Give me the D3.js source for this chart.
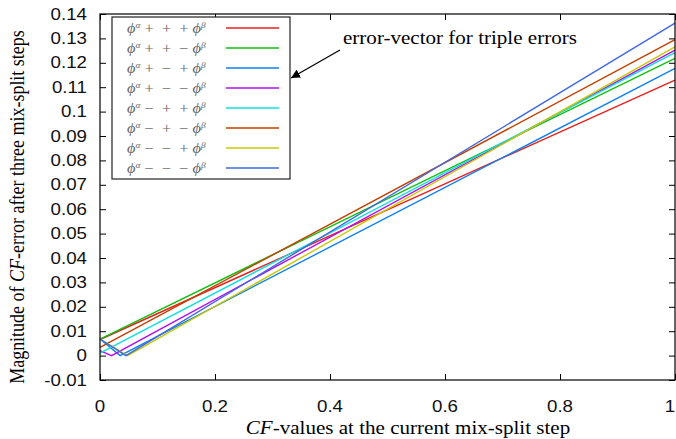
<!DOCTYPE html>
<html>
<head>
<meta charset="utf-8">
<script src="https://cdn.jsdelivr.net/npm/d3@7"></script>
<style>
  html, body { margin: 0; padding: 0; background: #fff; }
  svg { display: block; }
</style>
</head>
<body>
<div class="graph"></div>
<script>
// Valores: [valor CF, magnitud del error]
const ppp = [[0, 0.0066], [1, 0.1129]];
const ppm = [[0, 0.0068], [1, 0.1218]];
const pmp = [[0, 0.0068], [0.035, 0], [1, 0.1177]];
const pmm = [[0, 0.0020], [0.020, 0], [1, 0.1252]];
const mpp = [[0, 0.0010], [1, 0.1242]];
const mpm = [[0, 0.0034], [1, 0.1295]];
const mmp = [[0, 0.0068], [0.048, 0], [1, 0.1265]];
const mmm = [[0, 0.0068], [0.045, 0], [1, 0.1363]];

const series = [ppp, ppm, pmp, pmm, mpp, mpm, mmp, mmm];
const signs = ["+ + +", "+ + \u2212", "+ \u2212 +", "+ \u2212 \u2212",
               "\u2212 + +", "\u2212 + \u2212", "\u2212 \u2212 +", "\u2212 \u2212 \u2212"];
const colores = ["#e8201c", "#10c010", "#1080f0", "#b010f0",
                 "#10e0e0", "#c04000", "#c8c800", "#4169e1"];

const xTicks = [0, 0.2, 0.4, 0.6, 0.8, 1];
const yTicks = d3.range(-1, 15).map(d => d / 100);

const width = 676;
const height = 439;
const stretch = 1.17;

const svg = d3.select(".graph")
    .append("svg")
    .attr("width", width)
    .attr("height", height);

// Escalas
const x = d3.scaleLinear().domain([0, 1]).range([100, 675]);
const y = d3.scaleLinear().domain([-0.01, 0.14]).range([380, 14]);

// Marcas hacia dentro en los cuatro lados (estilo gnuplot)
function limpiar(g) {
    g.select(".domain").remove();
    g.selectAll(".tick line").attr("stroke", "#000");
}
svg.append("g").attr("transform", `translate(0,${y(-0.01)})`)
    .call(d3.axisBottom(x).tickValues(xTicks).tickSize(-6).tickFormat("")).call(limpiar);
svg.append("g").attr("transform", `translate(0,${y(0.14)})`)
    .call(d3.axisTop(x).tickValues(xTicks).tickSize(-6).tickFormat("")).call(limpiar);
svg.append("g").attr("transform", `translate(${x(0)},0)`)
    .call(d3.axisLeft(y).tickValues(yTicks).tickSize(-6).tickFormat("")).call(limpiar);
svg.append("g").attr("transform", `translate(${x(1)},0)`)
    .call(d3.axisRight(y).tickValues(yTicks).tickSize(-6).tickFormat("")).call(limpiar);

// Etiquetas de los ejes
svg.selectAll(".ylab").data(yTicks).join("text")
    .attr("class", "ylab")
    .attr("transform", d => `translate(87,${y(d) + 5.5}) scale(${stretch},1)`)
    .attr("text-anchor", "end")
    .attr("font-family", "Liberation Sans, Arial, sans-serif")
    .attr("font-size", 16)
    .attr("fill", "#111")
    .text(d => String(+d.toFixed(2)));

svg.selectAll(".xlab").data(xTicks).join("text")
    .attr("class", "xlab")
    .attr("transform", d => `translate(${Math.min(x(d), 670)},${412}) scale(${stretch},1)`)
    .attr("text-anchor", "middle")
    .attr("font-family", "Liberation Sans, Arial, sans-serif")
    .attr("font-size", 16)
    .attr("fill", "#111")
    .text(d => String(d));

const serif = "Liberation Serif, 'DejaVu Serif', serif";

const xt = svg.append("text")
    .attr("transform", `translate(408,434) scale(${stretch},1)`)
    .attr("text-anchor", "middle")
    .attr("font-family", serif)
    .attr("font-size", 18);
xt.append("tspan").attr("font-style", "italic").text("CF");
xt.append("tspan").text("-values at the current mix-split step");

const yt = svg.append("text")
    .attr("transform", `translate(24,207) scale(${stretch},1) rotate(-90)`)
    .attr("text-anchor", "middle")
    .attr("font-family", serif)
    .attr("font-size", 18);
yt.append("tspan").text("Magnitude of ");
yt.append("tspan").attr("font-style", "italic").text("CF");
yt.append("tspan").text("-error after three mix-split steps");

// Líneas
const line = d3.line()
    .x(d => x(d[0]))
    .y(d => y(d[1]));

svg.append("g").selectAll("path")
    .data(series)
    .join("path")
    .attr("d", line)
    .attr("fill", "none")
    .attr("stroke", (d, i) => colores[i])
    .attr("stroke-width", 1.4);

// Marco
svg.append("rect")
    .attr("x", x(0)).attr("y", y(0.14))
    .attr("width", x(1) - x(0)).attr("height", y(-0.01) - y(0.14))
    .attr("fill", "none").attr("stroke", "#000").attr("stroke-width", 1.2);

// Leyenda
const leyenda = svg.append("g");
leyenda.append("rect")
    .attr("x", 112).attr("y", 17).attr("width", 178).attr("height", 162)
    .attr("fill", "#fff").attr("stroke", "#222").attr("stroke-width", 1.2);

const filas = leyenda.selectAll(".fila").data(signs).join("g")
    .attr("class", "fila")
    .attr("transform", (d, i) => `translate(0,${28 + i * 20})`);

filas.append("line")
    .attr("x1", 226).attr("x2", 279)
    .attr("stroke", (d, i) => colores[i])
    .attr("stroke-width", 1.6);

const txt = filas.append("text")
    .attr("transform", `translate(127,4.5) scale(${stretch},1)`)
    .attr("font-family", serif)
    .attr("font-size", 14)
    .attr("fill", "#666");
txt.append("tspan").attr("font-style", "italic").text("\u03D5");
txt.append("tspan").attr("font-style", "italic").attr("font-size", 8).attr("dy", -5).text("\u03B1");
txt.append("tspan").attr("dy", 5).attr("xml:space", "preserve").text(d => " " + d.split(" ").join("  ") + " ");
txt.append("tspan").attr("font-style", "italic").text("\u03D5");
txt.append("tspan").attr("font-style", "italic").attr("font-size", 8).attr("dy", -5).text("\u03B2");

// Anotación con flecha
svg.append("defs").append("marker")
    .attr("id", "punta")
    .attr("viewBox", "0 0 10 10")
    .attr("refX", 10).attr("refY", 5)
    .attr("markerWidth", 9).attr("markerHeight", 9)
    .attr("markerUnits", "userSpaceOnUse")
    .attr("orient", "auto")
    .append("path").attr("d", "M0,0 L10,5 L0,10 Z").attr("fill", "#000");

svg.append("line")
    .attr("x1", 340).attr("y1", 50).attr("x2", 291).attr("y2", 78)
    .attr("stroke", "#000").attr("stroke-width", 1.2)
    .attr("marker-end", "url(#punta)");

svg.append("text")
    .attr("transform", `translate(343,44) scale(${stretch},1)`)
    .attr("font-family", serif)
    .attr("font-size", 18)
    .text("error-vector for triple errors");
</script>
</body>
</html>
